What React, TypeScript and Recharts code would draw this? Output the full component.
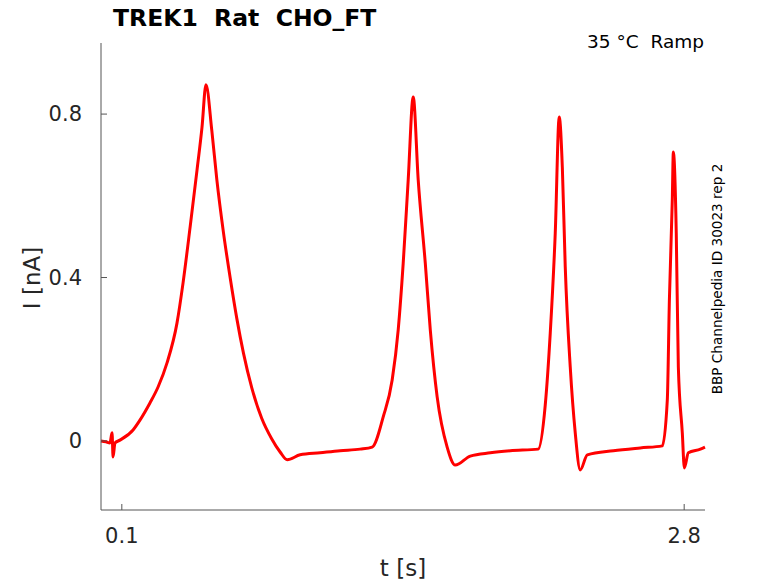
import React from 'react'
import { LineChart, Line, XAxis, YAxis } from 'recharts'

// time [s] and current [nA]
const timeS = [
  0.0, 0.024, 0.043, 0.053, 0.058, 0.067, 0.091, 0.154, 0.187, 0.235, 0.274, 0.317, 0.365, 0.394,
  0.428, 0.461, 0.485, 0.504, 0.532, 0.556, 0.588, 0.62, 0.652, 0.684, 0.724,
  0.772, 0.82, 0.86, 0.894, 0.956, 1.052, 1.148, 1.244, 1.302, 1.355, 1.398, 1.427,
  1.451, 1.475, 1.499, 1.523, 1.557, 1.581, 1.614, 1.662, 1.701, 1.773, 1.869, 1.965,
  2.099, 2.133, 2.157, 2.181, 2.2, 2.215, 2.229, 2.253, 2.277, 2.301, 2.335, 2.46,
  2.589, 2.695, 2.719, 2.729, 2.743, 2.748, 2.762, 2.772, 2.791, 2.801, 2.82, 2.878, 2.9,
]
const currentNA = [
  0.0, -0.002, -0.005, 0.02, -0.039, -0.005, 0.002, 0.027, 0.051, 0.093, 0.132, 0.191, 0.289, 0.387,
  0.524, 0.663, 0.768, 0.872, 0.76, 0.64, 0.51, 0.4, 0.3, 0.215, 0.13,
  0.055, 0.005, -0.027, -0.046, -0.034, -0.029, -0.024, -0.02, -0.015, 0.059, 0.149, 0.272,
  0.435, 0.639, 0.842, 0.639, 0.435, 0.272, 0.108, -0.015, -0.059, -0.037, -0.029, -0.024,
  -0.02, 0.088, 0.264, 0.509, 0.793, 0.67, 0.426, 0.181, 0.02, -0.071, -0.034, -0.024,
  -0.017, -0.012, 0.1, 0.345, 0.59, 0.707, 0.509, 0.181, 0.02, -0.066, -0.029, -0.02, -0.015,
]
const xTicks = [0.1, 2.8]
const yTicks = [0, 0.4, 0.8]

const data = timeS.map((t, i) => ({ t, i: currentNA[i] }))

const font = 'DejaVu Sans, sans-serif'
const axisColor = '#555555'
const textColor = '#262626'

function YTick(props: any) {
  const { x, y, payload } = props
  return (
    <g>
      <line x1={x} x2={x + 6} y1={y} y2={y} stroke={axisColor} strokeWidth={1} />
      <text x={x - 19} y={y + 7} textAnchor="end" fontSize={21} fontFamily={font} fill={textColor}>
        {payload.value === 0 ? '0' : String(payload.value)}
      </text>
    </g>
  )
}

function XTick(props: any) {
  const { x, y, payload } = props
  return (
    <g>
      <line x1={x} x2={x} y1={y} y2={y - 6} stroke={axisColor} strokeWidth={1} />
      <text x={x} y={y + 33} textAnchor="middle" fontSize={21} fontFamily={font} fill={textColor}>
        {String(payload.value)}
      </text>
    </g>
  )
}

export default function App() {
  return (
    <div style={{ position: 'absolute', left: 0, top: 0, width: 778, height: 583, background: '#fff' }}>
      <LineChart width={778} height={583} data={data} margin={{ top: 43, right: 73, bottom: 23, left: 41 }}>
        <XAxis
          dataKey="t"
          type="number"
          domain={[0, 2.9]}
          ticks={xTicks}
          height={50}
          stroke={axisColor}
          tickSize={0}
          tickMargin={0}
          tick={<XTick />}
          tickLine={false}
        />
        <YAxis
          type="number"
          domain={[-0.169, 0.974]}
          ticks={yTicks}
          width={60}
          stroke={axisColor}
          tickSize={0}
          tickMargin={0}
          tick={<YTick />}
          tickLine={false}
          allowDataOverflow
        />
        <Line
          type="monotone"
          dataKey="i"
          stroke="#ff0000"
          strokeWidth={3}
          dot={false}
          isAnimationActive={false}
        />
      </LineChart>
      <svg
        width={778}
        height={583}
        style={{ position: 'absolute', left: 0, top: 0, pointerEvents: 'none' }}
      >
        <text x={113} y={26} fontSize={23.5} fontWeight="bold" fontFamily={font} fill="#000" style={{ whiteSpace: 'pre' }}>
          TREK1  Rat  CHO_FT
        </text>
        <text x={704} y={48} textAnchor="end" fontSize={18.5} fontFamily={font} fill="#000" style={{ whiteSpace: 'pre' }}>
          35 °C  Ramp
        </text>
        <text
          x={0}
          y={0}
          transform="translate(722 279) rotate(-90)"
          textAnchor="middle"
          fontSize={13.6}
          fontFamily={font}
          fill="#000"
        >
          BBP Channelpedia ID 30023 rep 2
        </text>
        <text
          x={0}
          y={0}
          transform="translate(40 278) rotate(-90)"
          textAnchor="middle"
          fontSize={23}
          fontFamily={font}
          fill={textColor}
        >
          I [nA]
        </text>
        <text x={403} y={576} textAnchor="middle" fontSize={23} fontFamily={font} fill={textColor}>
          t [s]
        </text>
      </svg>
    </div>
  )
}
